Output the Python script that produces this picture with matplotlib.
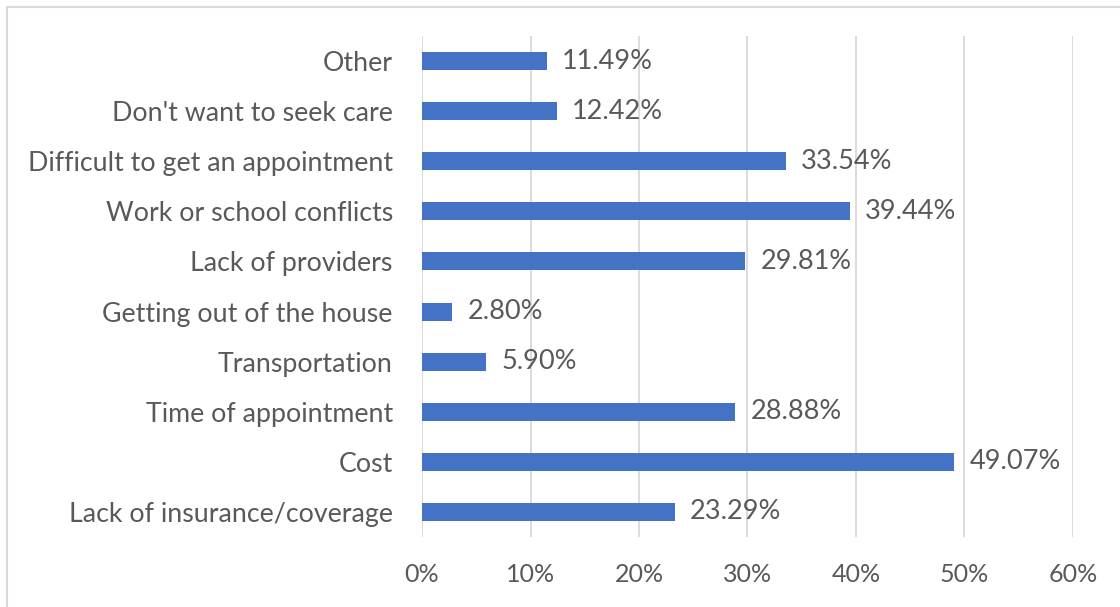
import matplotlib.pyplot as plt
from matplotlib.patches import Rectangle

categories = ['Lack of insurance/coverage', 'Cost', 'Time of appointment',
              'Transportation', 'Getting out of the house', 'Lack of providers',
              'Work or school conflicts', 'Difficult to get an appointment',
              "Don't want to seek care", 'Other']
values = [23.29, 49.07, 28.88, 5.90, 2.80, 29.81, 39.44, 33.54, 12.42, 11.49]
xticks = [0, 10, 20, 30, 40, 50, 60]

plt.rcParams['font.family'] = ['Lato', 'DejaVu Sans']
text_color = '#595959'

fig = plt.figure(figsize=(11.2, 6.07), dpi=100)
ax = fig.add_axes([0.3768, 0.1153, 0.9580 - 0.3768, 0.9407 - 0.1153])

# outer chart border
fig.patches.append(Rectangle((7 / 1120, -0.01), 1.02, 1 - 7 / 607 + 0.01,
                             transform=fig.transFigure, fill=False,
                             edgecolor='#D9D9D9', linewidth=1.5))

ypos = range(len(categories))
ax.barh(ypos, values, height=0.36, color='#4472C4', zorder=3)

for y, v in zip(ypos, values):
    ax.text(v + 1.4, y, '%.2f%%' % v, va='center', ha='left',
            fontsize=19.5, color=text_color)

ax.set_xlim(0, 60)
ax.set_ylim(-0.5, len(categories) - 0.5)
ax.set_xticks(xticks)
ax.set_xticklabels(['%d%%' % t for t in xticks])
ax.set_yticks(list(ypos))
ax.set_yticklabels(categories)
ax.tick_params(axis='both', length=0, labelcolor=text_color)
ax.tick_params(axis='x', pad=19, labelsize=18)
ax.tick_params(axis='y', pad=21, labelsize=19.3)

ax.grid(axis='x', color='#D9D9D9', linewidth=1.3, zorder=0)
for s in ax.spines.values():
    s.set_visible(False)

plt.savefig('out.png', dpi=100)
